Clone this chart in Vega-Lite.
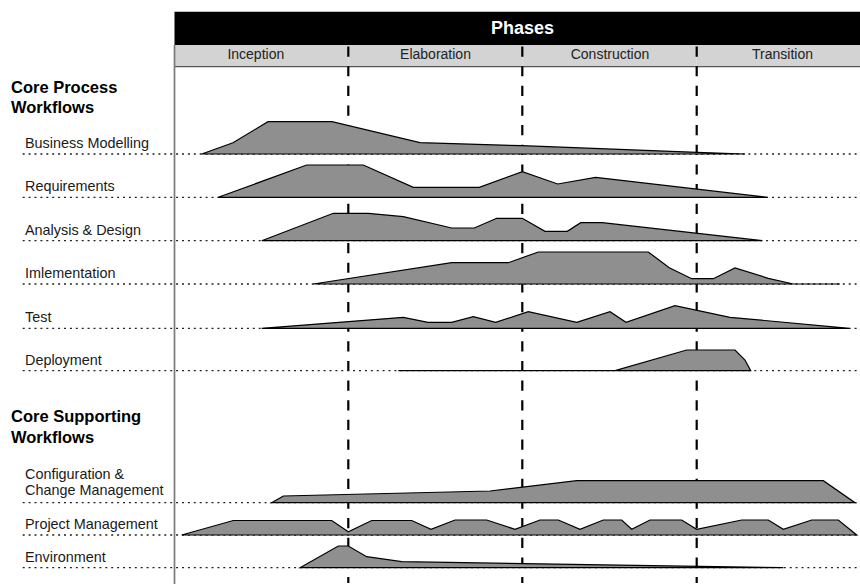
{
  "$schema": "https://vega.github.io/schema/vega-lite/v6.json",
  "width": 860,
  "height": 585,
  "padding": 0,
  "autosize": {"type": "none"},
  "background": "white",
  "config": {"view": {"stroke": null}, "axis": {"disable": true}, "font": "Liberation Sans"},
  "datasets": {
    "header": [{"title": "Phases", "start": 0, "end": 68.55, "center": 34.8}],
    "phases": [
      {"name": "Inception", "start": 0, "end": 17.38, "mid": 8.13},
      {"name": "Elaboration", "start": 17.38, "end": 34.78, "mid": 26.1},
      {"name": "Construction", "start": 34.78, "end": 52.22, "mid": 43.55},
      {"name": "Transition", "start": 52.22, "end": 68.55, "mid": 60.8}
    ],
    "lanes": [
      {"wf": "BM", "label": "Business Modelling", "base": 43.1},
      {"wf": "REQ", "label": "Requirements", "base": 38.77},
      {"wf": "AD", "label": "Analysis & Design", "base": 34.43},
      {"wf": "IMPL", "label": "Imlementation", "base": 30.1},
      {"wf": "TEST", "label": "Test", "base": 25.67},
      {"wf": "DEPL", "label": "Deployment", "base": 21.43},
      {"wf": "CCM", "label": "Configuration &\nChange Management", "base": 8.23},
      {"wf": "PM", "label": "Project Management", "base": 5.0},
      {"wf": "ENV", "label": "Environment", "base": 1.73}
    ],
    "sections": [
      {"label": "Core Process\nWorkflows", "pos": 48.93},
      {"label": "Core Supporting\nWorkflows", "pos": 15.97}
    ],
    "effort": [
      {"wf": "BM", "t": 2.72, "level": 43.1},
      {"wf": "BM", "t": 5.85, "level": 44.23},
      {"wf": "BM", "t": 9.35, "level": 46.33},
      {"wf": "BM", "t": 15.75, "level": 46.33},
      {"wf": "BM", "t": 24.55, "level": 44.23},
      {"wf": "BM", "t": 34.75, "level": 43.93},
      {"wf": "BM", "t": 52.25, "level": 43.27},
      {"wf": "BM", "t": 57.05, "level": 43.1},
      {"wf": "REQ", "t": 4.38, "level": 38.77},
      {"wf": "REQ", "t": 13.22, "level": 42.0},
      {"wf": "REQ", "t": 18.88, "level": 42.0},
      {"wf": "REQ", "t": 23.88, "level": 39.77},
      {"wf": "REQ", "t": 30.48, "level": 39.77},
      {"wf": "REQ", "t": 34.78, "level": 41.33},
      {"wf": "REQ", "t": 38.32, "level": 40.1},
      {"wf": "REQ", "t": 42.12, "level": 40.77},
      {"wf": "REQ", "t": 59.28, "level": 38.77},
      {"wf": "AD", "t": 8.72, "level": 34.43},
      {"wf": "AD", "t": 15.88, "level": 37.17},
      {"wf": "AD", "t": 19.38, "level": 37.17},
      {"wf": "AD", "t": 22.88, "level": 36.83},
      {"wf": "AD", "t": 27.72, "level": 35.7},
      {"wf": "AD", "t": 29.98, "level": 35.7},
      {"wf": "AD", "t": 32.22, "level": 36.67},
      {"wf": "AD", "t": 34.78, "level": 36.67},
      {"wf": "AD", "t": 37.05, "level": 35.37},
      {"wf": "AD", "t": 39.28, "level": 35.37},
      {"wf": "AD", "t": 40.62, "level": 36.23},
      {"wf": "AD", "t": 42.78, "level": 36.23},
      {"wf": "AD", "t": 58.78, "level": 34.43},
      {"wf": "IMPL", "t": 13.88, "level": 30.1},
      {"wf": "IMPL", "t": 27.72, "level": 32.23},
      {"wf": "IMPL", "t": 33.38, "level": 32.23},
      {"wf": "IMPL", "t": 36.38, "level": 33.3},
      {"wf": "IMPL", "t": 47.38, "level": 33.3},
      {"wf": "IMPL", "t": 49.48, "level": 31.73},
      {"wf": "IMPL", "t": 51.72, "level": 30.63},
      {"wf": "IMPL", "t": 53.88, "level": 30.63},
      {"wf": "IMPL", "t": 56.05, "level": 31.7},
      {"wf": "IMPL", "t": 59.38, "level": 30.67},
      {"wf": "IMPL", "t": 61.88, "level": 30.1},
      {"wf": "IMPL", "t": 66.55, "level": 30.1},
      {"wf": "TEST", "t": 8.72, "level": 25.67},
      {"wf": "TEST", "t": 22.88, "level": 26.77},
      {"wf": "TEST", "t": 25.35, "level": 26.27},
      {"wf": "TEST", "t": 27.72, "level": 26.27},
      {"wf": "TEST", "t": 29.88, "level": 26.83},
      {"wf": "TEST", "t": 32.12, "level": 26.27},
      {"wf": "TEST", "t": 35.38, "level": 27.33},
      {"wf": "TEST", "t": 40.22, "level": 26.27},
      {"wf": "TEST", "t": 43.55, "level": 27.33},
      {"wf": "TEST", "t": 45.15, "level": 26.27},
      {"wf": "TEST", "t": 50.05, "level": 27.93},
      {"wf": "TEST", "t": 55.55, "level": 26.77},
      {"wf": "TEST", "t": 67.48, "level": 25.67},
      {"wf": "DEPL", "t": 22.38, "level": 21.43},
      {"wf": "DEPL", "t": 44.05, "level": 21.43},
      {"wf": "DEPL", "t": 51.22, "level": 23.5},
      {"wf": "DEPL", "t": 56.05, "level": 23.5},
      {"wf": "DEPL", "t": 57.05, "level": 22.5},
      {"wf": "DEPL", "t": 57.62, "level": 21.43},
      {"wf": "CCM", "t": 9.72, "level": 8.23},
      {"wf": "CCM", "t": 10.88, "level": 8.9},
      {"wf": "CCM", "t": 31.55, "level": 9.4},
      {"wf": "CCM", "t": 40.22, "level": 10.43},
      {"wf": "CCM", "t": 64.88, "level": 10.43},
      {"wf": "CCM", "t": 68.05, "level": 8.23},
      {"wf": "PM", "t": 0.72, "level": 5.0},
      {"wf": "PM", "t": 5.88, "level": 6.45},
      {"wf": "PM", "t": 15.72, "level": 6.45},
      {"wf": "PM", "t": 17.38, "level": 5.33},
      {"wf": "PM", "t": 19.72, "level": 6.45},
      {"wf": "PM", "t": 23.72, "level": 6.45},
      {"wf": "PM", "t": 25.65, "level": 5.57},
      {"wf": "PM", "t": 28.05, "level": 6.5},
      {"wf": "PM", "t": 31.22, "level": 6.5},
      {"wf": "PM", "t": 34.05, "level": 5.57},
      {"wf": "PM", "t": 36.55, "level": 6.5},
      {"wf": "PM", "t": 38.38, "level": 6.5},
      {"wf": "PM", "t": 40.55, "level": 5.57},
      {"wf": "PM", "t": 42.88, "level": 6.5},
      {"wf": "PM", "t": 44.72, "level": 6.5},
      {"wf": "PM", "t": 45.72, "level": 5.57},
      {"wf": "PM", "t": 47.55, "level": 6.5},
      {"wf": "PM", "t": 50.72, "level": 6.5},
      {"wf": "PM", "t": 52.22, "level": 5.57},
      {"wf": "PM", "t": 56.72, "level": 6.5},
      {"wf": "PM", "t": 59.38, "level": 6.5},
      {"wf": "PM", "t": 60.88, "level": 5.57},
      {"wf": "PM", "t": 63.72, "level": 6.5},
      {"wf": "PM", "t": 66.38, "level": 6.5},
      {"wf": "PM", "t": 68.22, "level": 5.0},
      {"wf": "ENV", "t": 12.55, "level": 1.73},
      {"wf": "ENV", "t": 16.38, "level": 3.9},
      {"wf": "ENV", "t": 17.38, "level": 3.9},
      {"wf": "ENV", "t": 19.22, "level": 2.83},
      {"wf": "ENV", "t": 22.72, "level": 2.33},
      {"wf": "ENV", "t": 60.88, "level": 1.73}
    ]
  },
  "layer": [
    {
      "data": {"name": "header"},
      "mark": {"type": "rect", "color": "#000000"},
      "encoding": {
        "x": {"field": "start", "type": "quantitative", "scale": {"domain": [-17.45, 68.55], "nice": false, "zero": false}},
        "x2": {"field": "end"},
        "y": {"datum": 57.33, "type": "quantitative", "scale": {"domain": [0, 58.5], "nice": false, "zero": false}},
        "y2": {"datum": 54.0}
      }
    },
    {
      "data": {"name": "phases"},
      "mark": {"type": "rect", "color": "#d3d3d3"},
      "encoding": {
        "x": {"field": "start", "type": "quantitative", "scale": {"domain": [-17.45, 68.55], "nice": false, "zero": false}},
        "x2": {"field": "end"},
        "y": {"datum": 54.0, "type": "quantitative", "scale": {"domain": [0, 58.5], "nice": false, "zero": false}},
        "y2": {"datum": 51.83}
      }
    },
    {
      "data": {"name": "header"},
      "mark": {"type": "rule", "color": "#555555", "strokeWidth": 1.3},
      "encoding": {
        "x": {"field": "start", "type": "quantitative", "scale": {"domain": [-17.45, 68.55], "nice": false, "zero": false}},
        "x2": {"field": "end"},
        "y": {"datum": 51.83, "type": "quantitative", "scale": {"domain": [0, 58.5], "nice": false, "zero": false}}
      }
    },
    {
      "data": {"name": "header"},
      "mark": {"type": "rule", "color": "#7a7a7a", "strokeWidth": 1.7},
      "encoding": {
        "x": {"field": "start", "type": "quantitative", "scale": {"domain": [-17.45, 68.55], "nice": false, "zero": false}},
        "y": {"datum": 54.0, "type": "quantitative", "scale": {"domain": [0, 58.5], "nice": false, "zero": false}},
        "y2": {"datum": 0.1}
      }
    },
    {
      "data": {"name": "phases"},
      "transform": [{"filter": "datum.start > 0"}],
      "mark": {"type": "rule", "color": "#000000", "strokeWidth": 2.2, "strokeDash": [10.2, 9.45]},
      "encoding": {
        "x": {"field": "start", "type": "quantitative", "scale": {"domain": [-17.45, 68.55], "nice": false, "zero": false}},
        "y": {"datum": 53.85, "type": "quantitative", "scale": {"domain": [0, 58.5], "nice": false, "zero": false}},
        "y2": {"datum": 0.2}
      }
    },
    {
      "data": {"name": "lanes"},
      "mark": {"type": "rule", "color": "#222222", "strokeWidth": 1.3, "strokeDash": [2, 3.9]},
      "encoding": {
        "x": {"datum": -15.18, "type": "quantitative", "scale": {"domain": [-17.45, 68.55], "nice": false, "zero": false}},
        "x2": {"datum": 68.55},
        "y": {"field": "base", "type": "quantitative", "scale": {"domain": [0, 58.5], "nice": false, "zero": false}}
      }
    },
    {
      "data": {"name": "effort"},
      "transform": [
        {"lookup": "wf", "from": {"data": {"name": "lanes"}, "key": "wf", "fields": ["base"]}}
      ],
      "mark": {"type": "area", "color": "#8f8f8f", "stroke": "#000000", "strokeWidth": 1.2, "opacity": 1},
      "encoding": {
        "x": {"field": "t", "type": "quantitative", "scale": {"domain": [-17.45, 68.55], "nice": false, "zero": false}},
        "y": {"field": "level", "type": "quantitative", "stack": null, "scale": {"domain": [0, 58.5], "nice": false, "zero": false}},
        "y2": {"field": "base"},
        "detail": {"field": "wf", "type": "nominal"}
      }
    },
    {
      "data": {"name": "lanes"},
      "transform": [{"filter": "datum.wf !== 'CCM'"}],
      "mark": {"type": "text", "align": "left", "baseline": "bottom", "dy": -3, "fontSize": 14.4, "color": "#1a1a1a"},
      "encoding": {
        "x": {"datum": -14.95, "type": "quantitative", "scale": {"domain": [-17.45, 68.55], "nice": false, "zero": false}},
        "y": {"field": "base", "type": "quantitative", "scale": {"domain": [0, 58.5], "nice": false, "zero": false}},
        "text": {"field": "label", "type": "nominal"}
      }
    },
    {
      "data": {"name": "lanes"},
      "transform": [{"filter": "datum.wf === 'CCM'"}],
      "mark": {"type": "text", "align": "left", "baseline": "bottom", "dy": -20.4, "fontSize": 14.4, "color": "#1a1a1a", "lineBreak": "\n", "lineHeight": 15.7},
      "encoding": {
        "x": {"datum": -14.95, "type": "quantitative", "scale": {"domain": [-17.45, 68.55], "nice": false, "zero": false}},
        "y": {"field": "base", "type": "quantitative", "scale": {"domain": [0, 58.5], "nice": false, "zero": false}},
        "text": {"field": "label", "type": "nominal"}
      }
    },
    {
      "data": {"name": "sections"},
      "mark": {"type": "text", "align": "left", "baseline": "bottom", "fontSize": 16.5, "fontWeight": "bold", "color": "#000000", "lineBreak": "\n", "lineHeight": 20.5},
      "encoding": {
        "x": {"datum": -16.35, "type": "quantitative", "scale": {"domain": [-17.45, 68.55], "nice": false, "zero": false}},
        "y": {"field": "pos", "type": "quantitative", "scale": {"domain": [0, 58.5], "nice": false, "zero": false}},
        "text": {"field": "label", "type": "nominal"}
      }
    },
    {
      "data": {"name": "phases"},
      "mark": {"type": "text", "align": "center", "baseline": "alphabetic", "fontSize": 14, "color": "#222222"},
      "encoding": {
        "x": {"field": "mid", "type": "quantitative", "scale": {"domain": [-17.45, 68.55], "nice": false, "zero": false}},
        "y": {"datum": 52.57, "type": "quantitative", "scale": {"domain": [0, 58.5], "nice": false, "zero": false}},
        "text": {"field": "name", "type": "nominal"}
      }
    },
    {
      "data": {"name": "header"},
      "mark": {"type": "text", "align": "center", "baseline": "alphabetic", "fontSize": 18, "fontWeight": "bold", "color": "#ffffff"},
      "encoding": {
        "x": {"field": "center", "type": "quantitative", "scale": {"domain": [-17.45, 68.55], "nice": false, "zero": false}},
        "y": {"datum": 55.07, "type": "quantitative", "scale": {"domain": [0, 58.5], "nice": false, "zero": false}},
        "text": {"field": "title", "type": "nominal"}
      }
    }
  ]
}
